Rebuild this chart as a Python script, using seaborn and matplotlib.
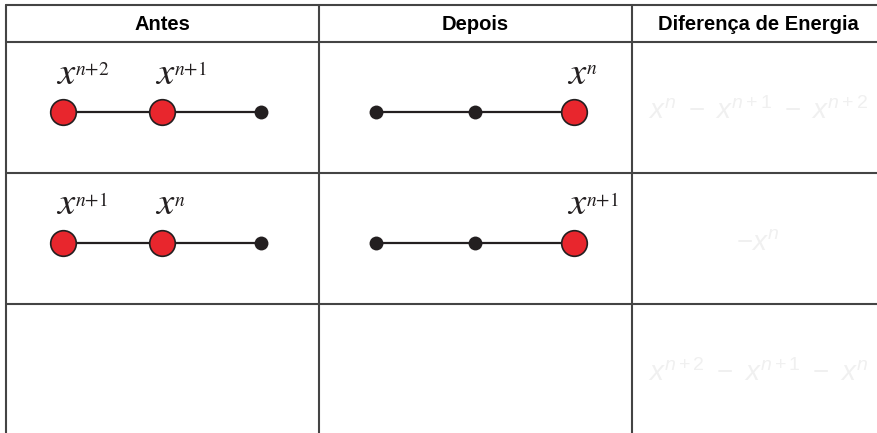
import matplotlib
matplotlib.use("Agg")
import matplotlib.pyplot as plt
import pandas as pd
import seaborn as sns

sns.set_theme(style="white")
plt.rcParams['font.family'] = ['Liberation Sans', 'DejaVu Sans']
plt.rcParams['mathtext.fontset'] = 'custom'
plt.rcParams['mathtext.rm'] = 'Liberation Sans'
plt.rcParams['mathtext.it'] = 'Liberation Sans:italic'

# table content
headers = ["Antes", "Depois", "Diferença de Energia"]
# 1 = occupied site (red), 0 = empty site (black dot)
antes = [[1, 1, 0], [1, 1, 0]]
depois = [[0, 0, 1], [0, 0, 1]]
# exponent of the x label above each site ("" = no label)
antes_labels = [["n+2", "n+1", ""], ["n+1", "n", ""]]
depois_labels = [["", "", "n"], ["", "", "n+1"]]
energia = [r"$x^n\ -\ x^{n+1}\ -\ x^{n+2}$", r"$-x^n$", r"$x^{n+2}\ -\ x^{n+1}\ -\ x^n$"]

# layout (pixel-like units of the figure)
col_edges = [6, 319, 632, 884]
row_edges = [5, 42, 173, 304, 440]
x0, dx = 57, 99

rows = []
for col, (states, labels) in enumerate([(antes, antes_labels), (depois, depois_labels)]):
    for r, (st, lb) in enumerate(zip(states, labels)):
        ymid = (row_edges[r + 1] + row_edges[r + 2]) / 2 + 4
        for i, (s, l) in enumerate(zip(st, lb)):
            rows.append({'x': col_edges[col] + x0 + i * dx, 'y': ymid,
                         'ocupado': s, 'label': l, 'chain': f"{col}-{r}"})
nodes = pd.DataFrame(rows)

fig = plt.figure(figsize=(8.78, 4.33), dpi=100)
ax = fig.add_axes([0, 0, 1, 1])

# chains
sns.lineplot(data=nodes, x='x', y='y', units='chain', estimator=None, sort=False,
             color='#231f20', lw=1.6, ax=ax, zorder=2, legend=False)
empty = nodes[nodes.ocupado == 0]
full = nodes[nodes.ocupado == 1]
sns.scatterplot(data=empty, x='x', y='y', s=100, color='#231f20', edgecolor='#231f20',
                linewidth=0, ax=ax, zorder=3, legend=False)
sns.scatterplot(data=full, x='x', y='y', s=340, color='#e8262d', edgecolor='#231f20',
                linewidth=1.2, ax=ax, zorder=4, legend=False)
ax.set_xlim(0, 878)
ax.set_ylim(433, 0)
ax.axis('off')

# grid of the table
gc = '#444444'
for xe in col_edges:
    ax.plot([xe, xe], [row_edges[0], row_edges[-1]], color=gc, lw=1.5, zorder=1)
for ye in row_edges[:-1]:
    ax.plot([col_edges[0], col_edges[-1]], [ye, ye], color=gc, lw=1.5, zorder=1)

for c, h in enumerate(headers):
    ax.text((col_edges[c] + col_edges[c + 1]) / 2, (row_edges[0] + row_edges[1]) / 2 + 1, h,
            ha='center', va='center', fontsize=14.5, fontweight='bold', color='black')

for _, n in nodes[nodes.label != ""].iterrows():
    ax.text(n.x - 7, n.y - 28, "$x$", ha='left', va='baseline', fontsize=28,
            math_fontfamily='stix', color='#231f20')
    sup = "$" + n.label.replace("+", "{+}") + "$"
    ax.text(n.x + 12, n.y - 37, sup, ha='left', va='baseline', fontsize=14,
            math_fontfamily='stix', color='#231f20')

for r, e in enumerate(energia):
    ax.text((col_edges[2] + col_edges[3]) / 2, row_edges[r + 1] + 77,
            e, ha='center', va='baseline', fontsize=20, color='#f0f0f0')

fig.savefig('out.png', dpi=100)
